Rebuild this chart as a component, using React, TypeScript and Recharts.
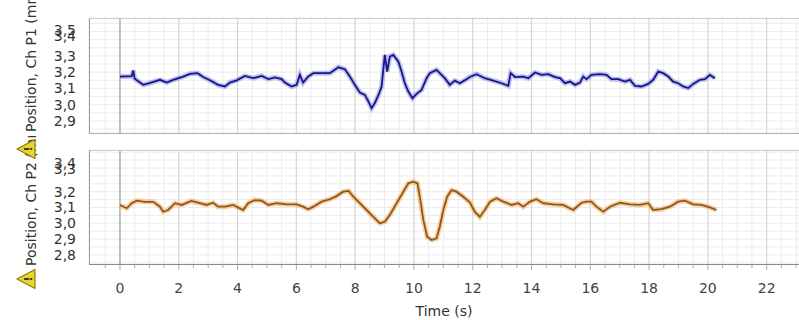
import { CartesianGrid, Line, LineChart, ReferenceLine, XAxis, YAxis } from "recharts";

// Ch P1 (top panel), time in s and position in mm
const p1Time = [
  0.0, 0.4, 0.45, 0.5, 0.79, 1.0, 1.36, 1.59, 1.81, 2.15, 2.38, 2.64, 2.83, 3.06, 3.34, 3.57, 3.74, 3.97,
  4.25, 4.53, 4.82, 5.05, 5.27, 5.5, 5.61, 5.84, 6.01, 6.12, 6.23, 6.4, 6.58, 6.86, 7.14, 7.43, 7.65, 7.82,
  7.99, 8.16, 8.33, 8.45, 8.56, 8.67, 8.82, 8.9, 9.01, 9.09, 9.18, 9.3, 9.47, 9.58, 9.69, 9.81, 9.95, 10.09,
  10.26, 10.43, 10.54, 10.77, 10.88, 11.05, 11.22, 11.39, 11.56, 11.79, 11.9, 12.13, 12.41, 12.7, 12.98,
  13.21, 13.29, 13.44, 13.72, 13.89, 14.12, 14.34, 14.57, 14.8, 14.97, 15.14, 15.31, 15.48, 15.65, 15.76,
  15.87, 16.04, 16.33, 16.55, 16.72, 16.95, 17.18, 17.35, 17.52, 17.74, 17.97, 18.14, 18.31, 18.48, 18.65,
  18.82, 18.99, 19.16, 19.33, 19.5, 19.73, 19.9, 20.07, 20.24,
];
const p1Pos = [
  3.173, 3.175, 3.21, 3.16, 3.122, 3.132, 3.153, 3.136, 3.153, 3.173, 3.19, 3.194, 3.17, 3.15, 3.122, 3.112,
  3.136, 3.15, 3.177, 3.163, 3.177, 3.157, 3.168, 3.157, 3.136, 3.112, 3.122, 3.183, 3.136, 3.173, 3.194,
  3.194, 3.194, 3.23, 3.218, 3.173, 3.122, 3.075, 3.06, 3.02, 2.979, 3.01, 3.071, 3.112, 3.306, 3.204, 3.296,
  3.306, 3.265, 3.204, 3.132, 3.081, 3.04, 3.067, 3.091, 3.163, 3.194, 3.214, 3.194, 3.163, 3.122, 3.148,
  3.132, 3.157, 3.17, 3.188, 3.163, 3.148, 3.132, 3.116, 3.194, 3.17, 3.173, 3.163, 3.198, 3.183, 3.188,
  3.17, 3.163, 3.132, 3.142, 3.122, 3.136, 3.173, 3.157, 3.183, 3.188, 3.183, 3.157, 3.157, 3.142, 3.153,
  3.116, 3.112, 3.128, 3.153, 3.204, 3.194, 3.173, 3.142, 3.132, 3.112, 3.102, 3.128, 3.153, 3.157, 3.183,
  3.163,
];

// Ch P2 (bottom panel)
const p2Time = [
  0.0, 0.23, 0.4, 0.57, 0.85, 1.13, 1.36, 1.47, 1.64, 1.87, 2.1, 2.43, 2.72, 2.95, 3.17, 3.34, 3.57, 3.85,
  4.19, 4.36, 4.59, 4.82, 5.05, 5.33, 5.67, 6.01, 6.23, 6.4, 6.58, 6.86, 7.14, 7.37, 7.59, 7.78, 7.94, 8.16,
  8.39, 8.61, 8.84, 9.01, 9.18, 9.41, 9.64, 9.81, 9.98, 10.12, 10.2, 10.32, 10.45, 10.6, 10.77, 10.88, 11.0,
  11.13, 11.28, 11.45, 11.68, 11.9, 12.07, 12.24, 12.41, 12.59, 12.81, 13.04, 13.32, 13.55, 13.72, 13.95,
  14.17, 14.4, 14.74, 15.08, 15.42, 15.7, 15.87, 16.04, 16.21, 16.44, 16.67, 17.01, 17.35, 17.69, 17.97,
  18.14, 18.42, 18.71, 18.99, 19.22, 19.5, 19.78, 20.07, 20.29,
];
const p2Pos = [
  3.116, 3.095, 3.127, 3.143, 3.136, 3.136, 3.105, 3.073, 3.084, 3.127, 3.116, 3.141, 3.127, 3.116, 3.13,
  3.105, 3.105, 3.116, 3.084, 3.127, 3.147, 3.143, 3.116, 3.127, 3.12, 3.12, 3.105, 3.089, 3.105, 3.137,
  3.152, 3.172, 3.2, 3.205, 3.168, 3.127, 3.084, 3.042, 3.0, 3.01, 3.053, 3.127, 3.2, 3.253, 3.263, 3.253,
  3.168, 3.021, 2.915, 2.894, 2.905, 2.978, 3.084, 3.168, 3.21, 3.2, 3.168, 3.132, 3.073, 3.04, 3.084, 3.137,
  3.158, 3.137, 3.116, 3.127, 3.105, 3.137, 3.152, 3.127, 3.12, 3.116, 3.084, 3.13, 3.137, 3.137, 3.105,
  3.073, 3.105, 3.13, 3.12, 3.116, 3.127, 3.084, 3.089, 3.105, 3.137, 3.143, 3.12, 3.116, 3.101, 3.084,
];

const timeTicks = [
  -0.5, 0, 0.5, 1, 1.5, 2, 2.5, 3, 3.5, 4, 4.5, 5, 5.5, 6, 6.5, 7, 7.5, 8, 8.5, 9, 9.5, 10, 10.5, 11, 11.5, 12,
  12.5, 13, 13.5, 14, 14.5, 15, 15.5, 16, 16.5, 17, 17.5, 18, 18.5, 19, 19.5, 20, 20.5, 21, 21.5, 22, 22.5, 23,
];
const timeMajors = [2, 4, 6, 8, 10, 12, 14, 16, 18, 20, 22];
const p1Ticks = [2.85, 2.9, 2.95, 3.0, 3.05, 3.1, 3.15, 3.2, 3.25, 3.3, 3.35, 3.4, 3.45, 3.5];
const p2Ticks = [2.75, 2.8, 2.85, 2.9, 2.95, 3.0, 3.05, 3.1, 3.15, 3.2, 3.25, 3.3, 3.35, 3.4, 3.45];

const FONT = "DejaVu Sans";
const X_DOMAIN = [-1.054, 23.1];

const p1Data = p1Time.map((t, i) => ({ t, v: p1Pos[i] }));
const p2Data = p2Time.map((t, i) => ({ t, v: p2Pos[i] }));

// labels only on tenths; the top two get squeezed together like the original
const makeYTick = (nudge: Record<string, number>) => (props: any) => {
  const { x, y, payload } = props;
  const v = Math.round(payload.value * 100);
  if (v % 10 !== 0) return <g />;
  const label = (v / 100).toFixed(1);
  return (
    <text x={x} y={y + (nudge[label] || 0)} dy={5} textAnchor="end" fontFamily={FONT} fontSize={14} fill="#333">
      {label.replace(".", ",")}
    </text>
  );
};

const XTick = (props: any) => {
  const { x, y, payload } = props;
  const major = payload.value % 2 === 0;
  return (
    <g>
      <line x1={x} x2={x} y1={y} y2={y + (major ? 6 : 4)} stroke="#aaa" />
      {major && (
        <text x={x} y={y + 29} textAnchor="middle" fontFamily={FONT} fontSize={14} fill="#444">
          {payload.value}
        </text>
      )}
    </g>
  );
};

const grid = <CartesianGrid stroke="#ececec" />;

const majors = timeMajors.map((m) => <ReferenceLine key={m} x={m} stroke="#d3d3d3" />);

const Warn = ({ cy }: { cy: number }) => (
  <g>
    <polygon
      points={`17,${cy} 35,${cy - 9.5} 35,${cy + 9.5}`}
      fill="#ecd42a"
      stroke="#8d7c10"
      strokeWidth={1.2}
      strokeLinejoin="round"
    />
    <text
      transform={`translate(32,${cy}) rotate(-90)`}
      textAnchor="middle"
      fontFamily={FONT}
      fontSize={11}
      fontWeight="bold"
      fill="#333"
    >
      !
    </text>
  </g>
);

export default function App() {
  return (
    <div
      style={{
        position: "fixed",
        left: 0,
        top: 0,
        width: 799,
        height: 320,
        overflow: "hidden",
        background: "#fff",
      }}
    >
      <div style={{ position: "absolute", left: 0, top: 0 }}>
        <LineChart width={799} height={140} data={p1Data} margin={{ top: 18, right: 0, bottom: 7, left: 0 }}>
          {grid}
          <XAxis type="number" dataKey="t" hide domain={X_DOMAIN} allowDataOverflow ticks={timeTicks} interval={0} />
          <YAxis
            type="number"
            width={89}
            domain={[2.826, 3.533]}
            allowDataOverflow
            ticks={p1Ticks}
            interval={0}
            axisLine={false}
            tickLine={false}
            tickSize={0}
            tickMargin={13}
            tick={makeYTick({ "3.5": 7, "3.4": -4 })}
          />
          {majors}
          <ReferenceLine x={0} stroke="#8a8a8a" />
          <Line dataKey="v" stroke="#8c8ee0" strokeOpacity={0.55} strokeWidth={5} dot={false} isAnimationActive={false} />
          <Line dataKey="v" stroke="#16168a" strokeWidth={1.8} dot={false} isAnimationActive={false} />
        </LineChart>
      </div>
      <div style={{ position: "absolute", left: 0, top: 140 }}>
        <LineChart width={799} height={180} data={p2Data} margin={{ top: 10, right: 0, bottom: 0, left: 0 }}>
          {grid}
          <XAxis
            type="number"
            dataKey="t"
            domain={X_DOMAIN}
            allowDataOverflow
            ticks={timeTicks}
            interval={0}
            height={56}
            axisLine={false}
            tickLine={false}
            tickSize={0}
            tickMargin={0}
            tick={XTick}
            label={{ value: "Time (s)", position: "insideBottom", offset: 4, fontFamily: FONT, fontSize: 14, fill: "#333" }}
          />
          <YAxis
            type="number"
            width={89}
            domain={[2.742, 3.464]}
            allowDataOverflow
            ticks={p2Ticks}
            interval={0}
            axisLine={false}
            tickLine={false}
            tickSize={0}
            tickMargin={13}
            tick={makeYTick({ "3.4": 3, "3.3": -7 })}
          />
          {majors}
          <ReferenceLine x={0} stroke="#8a8a8a" />
          <Line dataKey="v" stroke="#f2b060" strokeOpacity={0.6} strokeWidth={5} dot={false} isAnimationActive={false} />
          <Line dataKey="v" stroke="#93561a" strokeWidth={1.8} dot={false} isAnimationActive={false} />
        </LineChart>
      </div>

      {/* plot frames */}
      <div
        style={{
          position: "absolute",
          left: 89,
          top: 18,
          width: 720,
          height: 114,
          borderLeft: "1px solid #9a9a9a",
          borderTop: "1px solid #cfcfcf",
          borderBottom: "1px solid #b0b0b0",
          pointerEvents: "none",
        }}
      />
      <div
        style={{
          position: "absolute",
          left: 89,
          top: 150,
          width: 720,
          height: 113,
          borderLeft: "1px solid #9a9a9a",
          borderTop: "1px solid #cfcfcf",
          borderBottom: "1px solid #8a8a8a",
          pointerEvents: "none",
        }}
      />

      {/* rotated axis titles with warning marks */}
      <svg width={89} height={320} style={{ position: "absolute", left: 0, top: 0 }}>
        <defs>
          <clipPath id="lowerClip">
            <rect x={0} y={136} width={89} height={184} />
          </clipPath>
        </defs>
        <text transform="translate(36,132) rotate(-90)" fontFamily={FONT} fontSize={14} fill="#333">
          Position, Ch P1 (mm)
        </text>
        <g clipPath="url(#lowerClip)">
          <text transform="translate(36,266) rotate(-90)" fontFamily={FONT} fontSize={14} fill="#333">
            Position, Ch P2 (mm)
          </text>
        </g>
        <Warn cy={149} />
        <Warn cy={279} />
      </svg>
    </div>
  );
}
